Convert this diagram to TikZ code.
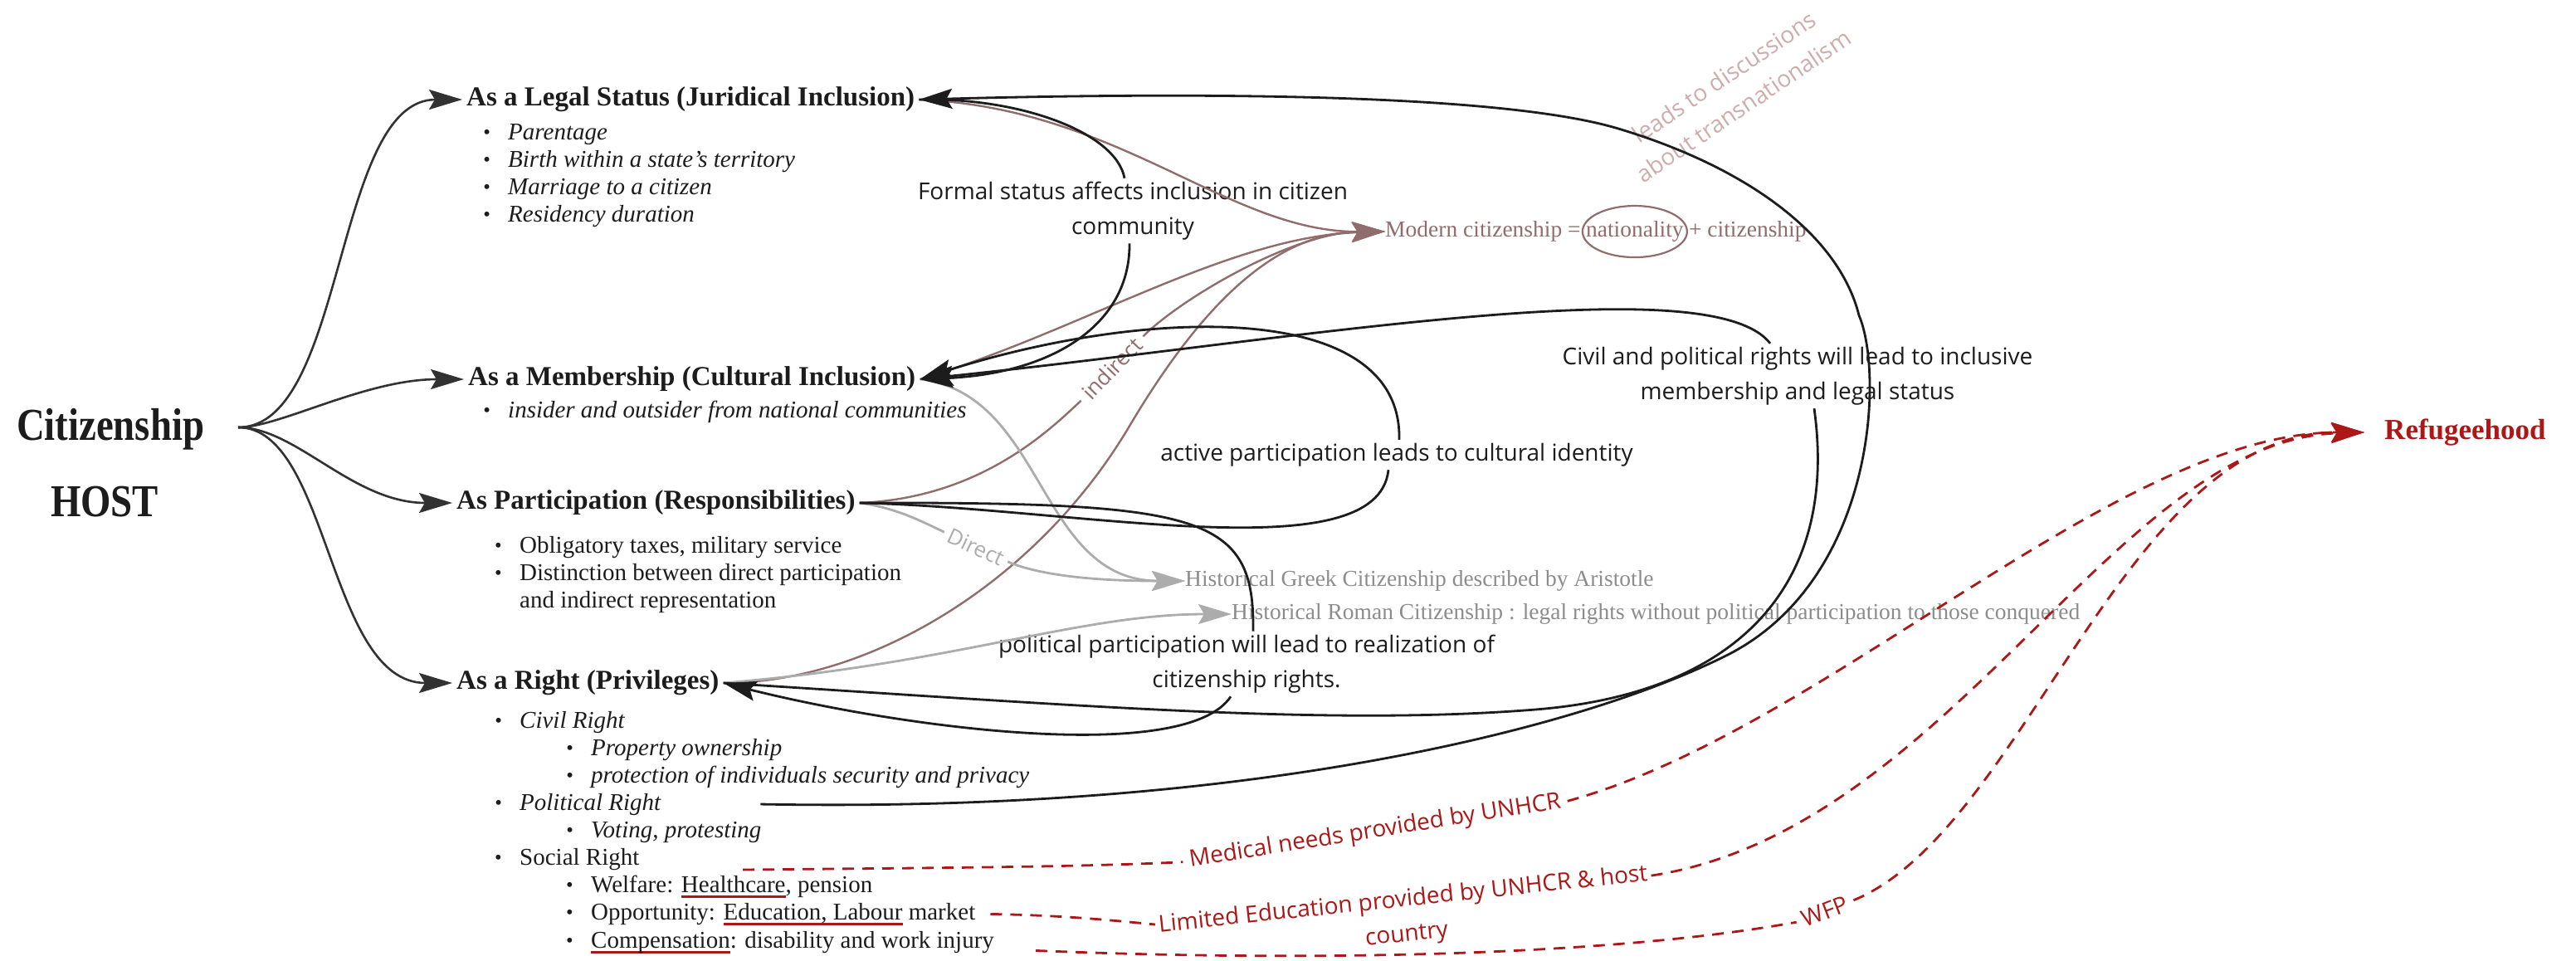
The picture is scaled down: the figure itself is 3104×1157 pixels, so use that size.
\documentclass[tikz,border=0pt]{standalone}
\usepackage{fontspec}
\setmainfont{Liberation Serif}
\newfontfamily\opensans{Open Sans}
\newfontfamily\citfont[FakeStretch=0.85]{Liberation Serif}
\usepackage{graphicx}
\usetikzlibrary{arrows.meta,calc,positioning}

\definecolor{ink}{RGB}{28,28,28}
\definecolor{citgrey}{RGB}{50,50,50}
\definecolor{mauve}{RGB}{145,108,108}
\definecolor{rose}{RGB}{205,172,172}
\definecolor{greyline}{RGB}{172,172,172}
\definecolor{greytext}{RGB}{140,140,140}
\definecolor{refred}{RGB}{172,24,24}

\newcommand\bul{\makebox[30pt][l]{\raisebox{1pt}{\scalebox{0.85}{\textbullet}}}}
\newcommand\rul[1]{{\setbox0\hbox{#1}\rlap{\textcolor{refred}{\rule[-7pt]{\wd0}{2.6pt}}}\box0}}

\tikzset{
  bigtip/.tip={Stealth[length=40pt,width=24pt,inset=7pt]},
  titlet/.style={font=\citfont\bfseries\fontsize{55}{60}\selectfont, text=ink, inner sep=0pt},
  head/.style={font=\fontsize{33}{40}\selectfont\bfseries, text=ink, inner xsep=5pt, inner ysep=0pt, anchor=west},
  rmpt/.style={font=\fontsize{29}{33}\selectfont, text=ink, inner sep=0pt, anchor=base west},
  itpt/.style={font=\fontsize{29}{33}\selectfont\itshape, text=ink, inner sep=0pt, anchor=base west},
  modtext/.style={font=\fontsize{27.5}{32}\selectfont, text=mauve, inner sep=0pt},
  greyt/.style={font=\fontsize{27.5}{32}\selectfont, text=greytext, inner sep=0pt},
  refug/.style={font=\fontsize{35}{40}\selectfont\bfseries, text=refred, inner sep=0pt},
  note/.style={font=\opensans\fontsize{28}{42}\selectfont, text=ink, align=center, inner sep=4pt},
  rednote/.style={note, text=refred},
  conn/.style={draw=ink, line width=2.8pt},
  connto/.style={conn, -bigtip},
  citto/.style={draw=citgrey, line width=2.6pt, -bigtip},
  mauvepath/.style={draw=mauve, line width=2.4pt},
  mauveto/.style={mauvepath, -bigtip},
  greypath/.style={draw=greyline, line width=2.8pt},
  greyto/.style={greypath, -bigtip},
  redpath/.style={draw=refred, line width=2.8pt, dash pattern=on 14pt off 10pt},
  redto/.style={redpath, -bigtip}
}

\begin{document}
\begin{tikzpicture}[x=1pt,y=-1pt]
	\useasboundingbox (0,0) rectangle (3104,1157);
	
	%%%%% MAIN NODES %%%%%
	\node[titlet] (cit) at (133,517) {Citizenship};
	\node[titlet] (host) at (126,605) {HOST};
	\coordinate (hub) at (287,515);
	
	\node[head] (legal) at (557,120) {As a Legal Status (Juridical Inclusion)};
	\node[head] (member) at (559,457) {As a Membership (Cultural Inclusion)};
	\node[head] (partic) at (545,606) {As Participation (Responsibilities)};
	\node[head] (privil) at (545,823) {As a Right (Privileges)};
	
	%%%%% POINTS %%%%%
	\node[itpt] (lp1) at (582,168) {\bul Parentage};
	\node[itpt] (lp2) at (582,201) {\bul Birth within a state's territory};
	\node[itpt] (lp3) at (582,234) {\bul Marriage to a citizen};
	\node[itpt] (lp4) at (582,267) {\bul Residency duration};
	
	\node[itpt] (mp1) at (582,503) {\bul insider and outsider from national communities};
	
	\node[rmpt] (pp1) at (596,666) {\bul Obligatory taxes, military service};
	\node[rmpt] (pp2) at (596,699) {\bul Distinction between direct participation};
	\node[rmpt] (pp3) at (626,732) {and indirect representation};
	
	\node[itpt] (rp1) at (596,877) {\bul Civil Right};
	\node[itpt] (rp2) at (682,910) {\bul Property ownership};
	\node[itpt] (rp3) at (682,943) {\bul protection of individuals security and privacy};
	\node[itpt] (rp4) at (596,976) {\bul Political Right};
	\node[itpt] (rp5) at (682,1009) {\bul Voting, protesting};
	\node[rmpt] (rp6) at (596,1042) {\bul Social Right};
	\node[rmpt] (rp7) at (682,1075) {\bul Welfare: \rul{Healthcare}, pension};
	\node[rmpt] (rp8) at (682,1108) {\bul Opportunity: \rul{Education, Labour} market};
	\node[rmpt] (rp9) at (682,1142) {\bul \rul{Compensation}: disability and work injury};
	
	\coordinate (polrgo) at ($(rp4.east)+(120,0)$);
	\coordinate (healthgo) at (895,1048);
	\coordinate (labourgo) at ($(rp8.east)+(18,0)$);
	\coordinate (compgo) at ($(rp9.east)+(50,10)$);
	
	%%%%% RIGHT SIDE %%%%%
	\node[modtext, anchor=west] (mod) at (1669,279) {Modern citizenship =};
	\node[modtext, base right=6pt of mod] (nat) {nationality};
	\node[modtext, base right=6pt of nat] (modplus) {+ citizenship};
	\draw[mauvepath, line width=2.2pt] (nat) ellipse [x radius=63, y radius=31];
	
	\node[greyt, anchor=west] (greek) at (1428,700) {Historical Greek Citizenship described by Aristotle};
	\node[greyt, anchor=west] (roman) at (1484,740) {Historical Roman Citizenship : legal rights without political participation to those conquered};
	\node[refug, anchor=west] (refug) at (2873,521) {Refugeehood};
	
	%%%%% LABELS %%%%%
	\node[note] (formal) at (1365,254) {Formal status affects inclusion in citizen\\community};
	\node[note] (culture) at (1683,548) {active participation leads to cultural identity};
	\node[note] (civil) at (2166,453) {Civil and political rights will lead to inclusive\\membership and legal status};
	\node[note] (polit) at (1502,800) {political participation will lead to realization of\\citizenship rights.};
	\node[note, text=rose, rotate=34] (transnat) at (2089,110) {leads to discussions\\about transnationalism};
	\node[note, text=mauve, rotate=46, inner xsep=8pt, font=\opensans\fontsize{26}{30}\selectfont] (indir) at (1340,444) {indirect};
	\node[note, text=greyline, rotate=-25, inner xsep=6pt, font=\opensans\fontsize{26}{30}\selectfont] (direct) at (1176,659) {Direct};
	\node[rednote, rotate=9, inner xsep=8pt] (medical) at (1657,1002) {Medical needs provided by UNHCR};
	\node[rednote, rotate=6] (educ) at (1693,1106) {Limited Education provided by UNHCR \& host\\country};
	\node[rednote, rotate=21, inner xsep=8pt] (wfp) at (2199,1098) {WFP};
	
	%%%%% CITIZENSHIP BRANCHES %%%%%
	\draw[citto] (hub) .. controls (417,515) and (402,120) .. (legal.west);
	\draw[citto] (hub) .. controls (337,515) and (440,457) .. (member.west);
	\draw[citto] (hub) .. controls (357,515) and (425,606) .. (partic.west);
	\draw[citto] (hub) .. controls (397,515) and (395,823) .. (privil.west);
	
	%%%%% MAUVE %%%%%
	\draw[mauveto] (legal.east) .. controls (1350,130) and (1480,280) .. (mod.west);
	\draw[mauveto] (member.east) .. controls (1300,400) and (1480,285) .. (mod.west);
	\draw[mauvepath] (partic.east) .. controls (1180,600) and (1263,520) .. (indir.west);
	\draw[mauveto] (indir.east) .. controls (1425,358) and (1560,280) .. (mod.west);
	\draw[mauveto] (privil.east) .. controls (1050,823) and (1250,700) .. (1360,515) .. controls (1440,380) and (1530,280) .. (mod.west);
	
	%%%%% GREY %%%%%
	\draw[greyto] (member.east) .. controls (1260,475) and (1250,700) .. (greek.west);
	\draw[greypath] (partic.east) .. controls (1080,612) and (1110,628) .. (direct.west);
	\draw[greyto] (direct.east) .. controls (1268,700) and (1370,700) .. (greek.west);
	\draw[greyto] (privil.east) .. controls (1150,800) and (1300,740) .. (roman.west);
	
	%%%%% BLACK %%%%%
	\draw[conn] (legal.east) .. controls (1230,117) and (1345,160) .. ([xshift=-10pt]formal.north);
	\draw[connto] ([xshift=-4pt]formal.south) .. controls (1362,390) and (1270,450) .. (member.east);
	
	\draw[conn] (partic.east) .. controls (1300,612) and (1660,690) .. ([xshift=-10pt]culture.south);
	\draw[connto] ([xshift=3pt]culture.north) .. controls (1690,360) and (1380,370) .. (member.east);
	
	\draw[conn] (partic.east) .. controls (1450,605) and (1512,620) .. ([xshift=8pt]polit.north);
	\draw[connto] ([xshift=-19pt]polit.south) .. controls (1430,920) and (1100,880) .. (privil.east);
	
	\draw[conn] (privil.east) .. controls (1300,850) and (1600,875) .. (1850,855) .. controls (2100,835) and (2215,700) .. ([xshift=20pt]civil.south);
	\draw[connto] ([xshift=-33pt]civil.north) .. controls (2060,320) and (1560,410) .. (member.east);
	
	\draw[connto] (polrgo) .. controls (1500,980) and (1900,880) .. (2080,790) .. controls (2260,700) and (2270,450) .. (2240,380) .. controls (2215,280) and (2100,200) .. (1950,155) .. controls (1800,110) and (1400,112) .. (legal.east);
	
	%%%%% REFUGEEHOOD %%%%%
	\draw[redpath] (healthgo) .. controls (1100,1046) and (1300,1045) .. (medical.west);
	\draw[redto] (medical.east) .. controls (2200,880) and (2550,521) .. ([xshift=-24pt]refug.west);
	\draw[redpath] (labourgo) .. controls (1280,1103) and (1330,1108) .. ($(educ.west)!0.6!(educ.north west)$);
	\draw[redto] ($(educ.east)!0.5!(educ.north east)$) .. controls (2350,1000) and (2550,530) .. ([xshift=-24pt]refug.west);
	\draw[redpath] (compgo) .. controls (1600,1160) and (1950,1150) .. (wfp.west);
	\draw[redto] (wfp.east) .. controls (2440,1000) and (2560,520) .. ([xshift=-24pt]refug.west);
	
	%%%%% END %%%%%
\end{tikzpicture}
\end{document}
